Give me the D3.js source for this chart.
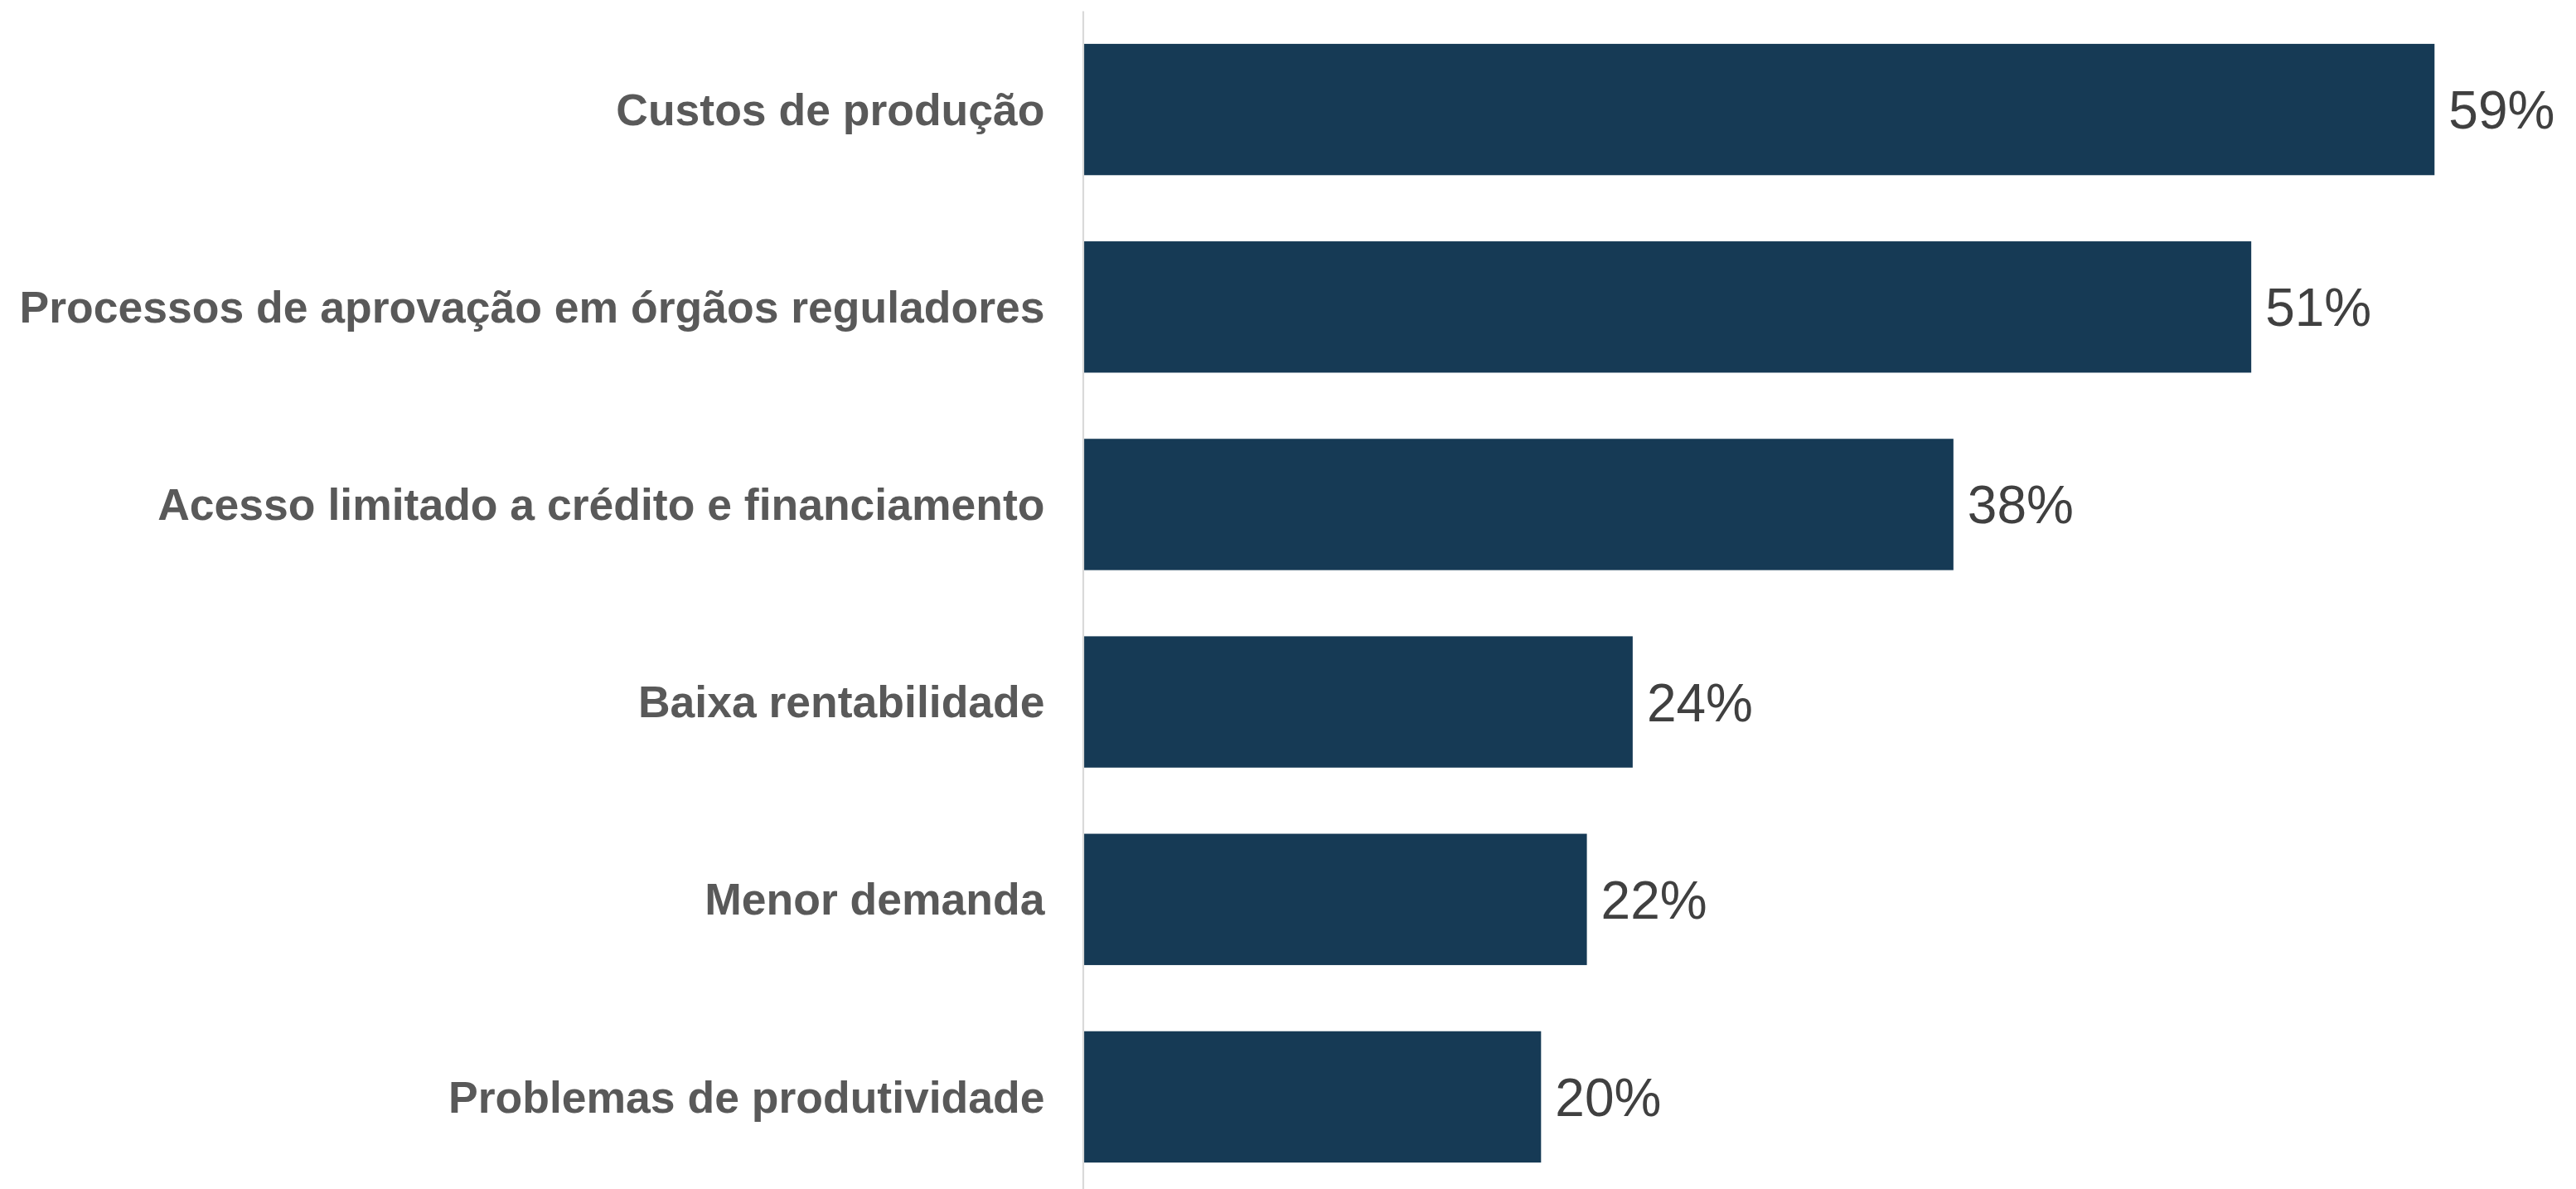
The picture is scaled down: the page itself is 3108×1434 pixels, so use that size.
<!DOCTYPE html>
<html>
<head>
<meta charset="utf-8">
<script src="https://cdn.jsdelivr.net/npm/d3@7"></script>
<style>
  html, body { margin: 0; padding: 0; background: #ffffff; }
  svg { display: block; }
</style>
</head>
<body>
<div id="chart"></div>
<script>
const categories = [
  "Custos de produção",
  "Processos de aprovação em órgãos reguladores",
  "Acesso limitado a crédito e financiamento",
  "Baixa rentabilidade",
  "Menor demanda",
  "Problemas de produtividade"
];
const values = [59, 51, 38, 24, 22, 20];
const valueLabels = ["59%", "51%", "38%", "24%", "22%", "20%"];

const W = 3108, H = 1434;
const axisX = 1306.5;
const fontFamily = "'Liberation Sans', Arial, Helvetica, sans-serif";

const svg = d3.select("#chart").append("svg")
  .attr("width", W).attr("height", H);

const x = d3.scaleLinear().domain([0, 59]).range([axisX, 2937.3]);
const y = d3.scaleBand().domain(categories).range([13, 1442])
  .paddingInner(0.335).paddingOuter(0.1675);

const data = categories.map((c, i) => ({ c, v: values[i], l: valueLabels[i] }));

// bars
svg.append("g").selectAll("rect").data(data).join("rect")
  .attr("x", x(0))
  .attr("y", d => y(d.c))
  .attr("width", d => x(d.v) - x(0))
  .attr("height", y.bandwidth())
  .attr("fill", "#163A55");

// axis line (category axis)
const yAxis = d3.axisLeft(y).tickSize(0).tickPadding(46);
const gAxis = svg.append("g").attr("transform", `translate(${axisX},0)`).call(yAxis);
gAxis.select(".domain").attr("stroke", "#D9D9D9").attr("stroke-width", 2.2);
gAxis.selectAll("text")
  .attr("font-family", fontFamily)
  .attr("font-size", 53.5)
  .attr("font-weight", "bold")
  .attr("fill", "#595959")
  .attr("dy", "0.35em");
gAxis.attr("font-family", null).attr("font-size", null);

// value labels
svg.append("g").selectAll("text").data(data).join("text")
  .attr("x", d => x(d.v) + 17)
  .attr("y", d => y(d.c) + y.bandwidth() / 2)
  .attr("dy", "0.36em")
  .attr("font-family", fontFamily)
  .attr("font-size", 64)
  .attr("fill", "#404040")
  .text(d => d.l);
</script>
</body>
</html>
